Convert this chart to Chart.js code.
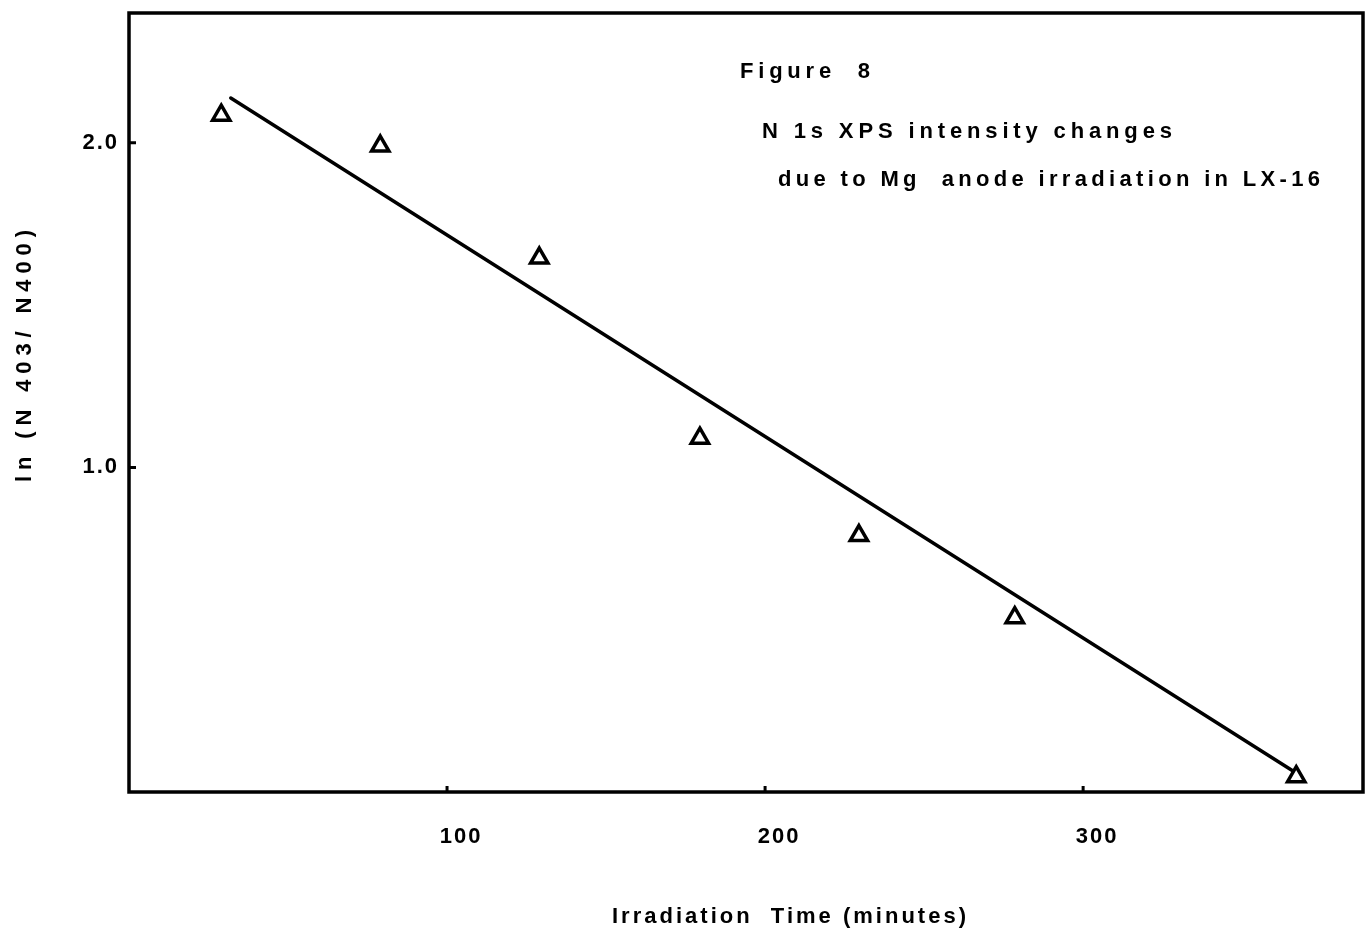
<!DOCTYPE html>
<html>
<head>
<meta charset="utf-8">
<script src="https://cdn.jsdelivr.net/npm/chart.js@4.4.1/dist/chart.umd.min.js"></script>
<style>
  html, body { margin: 0; padding: 0; background: #fff; overflow: hidden; }
  canvas { display: block; }
</style>
</head>
<body>
<canvas id="grafica" width="1366" height="930"></canvas>
<script>
// tiempos de irradiación (min) y ln(N403/N400)
const tiempos = [29, 79, 129, 179.5, 229.5, 278.5, 367];
const lnRazon = [2.085, 1.99, 1.645, 1.09, 0.79, 0.537, 0.047];

// recta de ajuste (extremos)
const ajusteX = [32, 366];
const ajusteY = [2.138, 0.065];

const ticksX = [100, 200, 300];
const ticksY = [1.0, 2.0];

const tituloX = 'Irradiation  Time (minutes)';
const tituloY = 'ln (N 403/ N400)';
const notas = ['Figure  8', 'N 1s XPS intensity changes', 'due to Mg  anode irradiation in LX-16'];

const FAMILIA = '"Liberation Sans", Arial, sans-serif';

// escribe texto estirado con letterSpacing hasta un ancho dado
function textoEspaciado(ctx, txt, x, y, ancho) {
    ctx.letterSpacing = '0px';
    const w = ctx.measureText(txt).width;
    const sp = (ancho - w) / (txt.length - 1);
    ctx.letterSpacing = sp + 'px';
    ctx.fillText(txt, x, y);
    ctx.letterSpacing = '0px';
}

// sin relleno extra de las escalas, el área la fija layout.padding
function sinPadding(s) {
    s.paddingTop = 0; s.paddingBottom = 0;
    s.paddingLeft = 0; s.paddingRight = 0;
}

const marco = {
    id: 'marco',
    beforeDraw(chart) {
        chart.ctx.letterSpacing = '2px'; // para las etiquetas de los ejes
    },
    afterDraw(chart) {
        const ctx = chart.ctx;
        const a = chart.chartArea;
        const sx = chart.scales.x, sy = chart.scales.y;
        ctx.save();
        ctx.letterSpacing = '0px';
        ctx.strokeStyle = '#000';
        ctx.lineWidth = 3.5;
        ctx.strokeRect(a.left, a.top, a.right - a.left, a.bottom - a.top);

        // marcas hacia dentro
        ctx.lineWidth = 3;
        ctx.beginPath();
        ticksX.forEach(v => {
            const px = sx.getPixelForValue(v);
            ctx.moveTo(px, a.bottom);
            ctx.lineTo(px, a.bottom - 6);
        });
        ticksY.forEach(v => {
            const py = sy.getPixelForValue(v);
            ctx.moveTo(a.left, py);
            ctx.lineTo(a.left + 7, py);
        });
        ctx.stroke();

        // textos
        ctx.fillStyle = '#000';
        ctx.font = 'bold 22px ' + FAMILIA;
        ctx.textAlign = 'left';
        ctx.textBaseline = 'alphabetic';
        textoEspaciado(ctx, notas[0], 740, 78, 130);
        textoEspaciado(ctx, notas[1], 762, 138, 410);
        textoEspaciado(ctx, notas[2], 778, 186, 542);
        textoEspaciado(ctx, tituloX, 612, 923, 354);

        ctx.translate(25, 356);
        ctx.rotate(-Math.PI / 2);
        ctx.textBaseline = 'middle';
        textoEspaciado(ctx, tituloY, -126, 0, 252);
        ctx.restore();
    }
};

const canvas = document.getElementById('grafica');
new Chart(canvas, {
    type: 'scatter',
    data: {
        datasets: [
            {
                label: 'Medidas',
                data: tiempos.map((x, i) => ({ x: x, y: lnRazon[i] })),
                pointStyle: 'triangle',
                pointRadius: 10,
                borderWidth: 3.5,
                borderColor: '#000',
                backgroundColor: '#fff',
                showLine: false
            },
            {
                label: 'Ajuste',
                type: 'line',
                data: ajusteX.map((x, i) => ({ x: x, y: ajusteY[i] })),
                borderColor: '#000',
                borderWidth: 3.5,
                borderCapStyle: 'round',
                pointRadius: 0,
                fill: false,
                tension: 0
            }
        ]
    },
    options: {
        responsive: false,
        animation: false,
        devicePixelRatio: 1,
        layout: { autoPadding: false, padding: { top: 13, right: 3, left: 0, bottom: 0 } },
        plugins: { legend: { display: false }, tooltip: { enabled: false } },
        scales: {
            x: {
                type: 'linear', min: 0, max: 388,
                grid: { display: false, drawTicks: false },
                border: { display: false },
                afterBuildTicks: s => { s.ticks = ticksX.map(v => ({ value: v })); },
                afterFit: s => { s.height = 138; sinPadding(s); },
                ticks: {
                    color: '#000', padding: 32, labelOffset: 14, maxRotation: 0, autoSkip: false,
                    font: { family: FAMILIA, size: 22, weight: 'bold' }
                }
            },
            y: {
                type: 'linear', min: 0, max: 2.4,
                grid: { display: false, drawTicks: false },
                border: { display: false },
                afterBuildTicks: s => { s.ticks = ticksY.map(v => ({ value: v })); },
                afterFit: s => { s.width = 129; sinPadding(s); },
                ticks: {
                    color: '#000', padding: 10, autoSkip: false,
                    callback: v => v.toFixed(1),
                    font: { family: FAMILIA, size: 22, weight: 'bold' }
                }
            }
        }
    },
    plugins: [marco]
});
</script>
</body>
</html>
